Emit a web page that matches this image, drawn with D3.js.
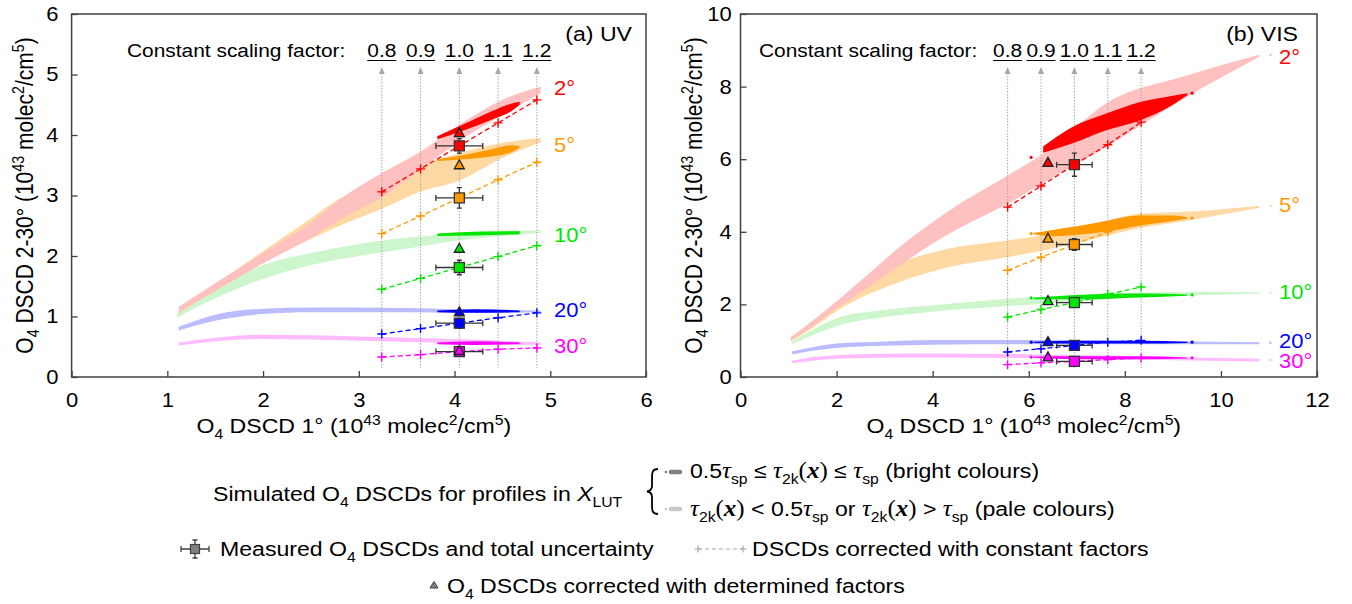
<!DOCTYPE html>
<html>
<head>
<meta charset="utf-8">
<script src="https://cdn.jsdelivr.net/npm/d3@7"></script>
<style>
  body { margin: 0; background: #fff; }
  svg { display: block; font-family: "Liberation Sans", Arial, sans-serif; }
</style>
</head>
<body>
<div id="chart"></div>
<script>
// ---------- data ----------
const ANGLES = ["2°", "5°", "10°", "20°", "30°"];
const BRIGHT = ["#ff0000", "#ff9900", "#00e600", "#0000ff", "#ff00ff"];
const PALE   = ["#ffc0c0", "#ffd9a3", "#cdf6cd", "#bbbbff", "#ffbbff"];
const FACTOR_LABELS = ["0.8", "0.9", "1.0", "1.1", "1.2"];

// UV: pale bands [x, low, high]
const uvPale2  = [[1.12,1.07,1.16],[1.5,1.42,1.55],[2.0,1.88,2.05],[2.5,2.3,2.55],[2.8,2.6,2.93],[3.24,2.97,3.37],[3.64,3.42,3.72],[4.05,3.9,4.17],[4.5,4.33,4.58],[4.9,4.69,4.8]];
const uvPale5  = [[1.12,1.05,1.12],[1.5,1.42,1.52],[2.0,1.88,2.08],[2.5,2.28,2.62],[2.8,2.5,2.95],[3.24,2.78,3.22],[3.64,3.06,3.5],[4.05,3.25,3.7],[4.5,3.62,3.87],[4.9,3.88,3.95]];
const uvPale10 = [[1.1,0.98,1.05],[1.5,1.3,1.45],[2.0,1.62,1.85],[2.5,1.85,2.05],[3.0,2.0,2.2],[3.5,2.12,2.3],[4.0,2.25,2.37],[4.5,2.33,2.42],[4.9,2.38,2.42]];
const uvPale20 = [[1.12,0.77,0.83],[1.5,0.93,1.03],[2.0,1.04,1.13],[2.5,1.07,1.15],[3.0,1.07,1.15],[3.5,1.07,1.14],[4.0,1.06,1.12],[4.5,1.06,1.11],[4.9,1.07,1.1]];
const uvPale30 = [[1.12,0.52,0.57],[1.5,0.59,0.65],[2.0,0.63,0.7],[2.5,0.62,0.69],[3.0,0.6,0.67],[3.5,0.58,0.65],[4.0,0.56,0.63],[4.5,0.54,0.6],[4.9,0.53,0.57]];
// UV: bright bands
const uvBright2  = [[3.82,3.93,3.98],[4.1,4.08,4.18],[4.4,4.26,4.4],[4.6,4.4,4.52],[4.68,4.5,4.55]];
const uvBright5  = [[3.82,3.57,3.6],[4.1,3.6,3.67],[4.4,3.65,3.77],[4.6,3.72,3.83],[4.68,3.79,3.82]];
const uvBright10 = [[3.82,2.33,2.37],[4.2,2.34,2.4],[4.68,2.36,2.41]];
const uvBright20 = [[3.82,1.07,1.1],[4.2,1.06,1.12],[4.68,1.07,1.1]];
const uvBright30 = [[3.82,0.54,0.57],[4.2,0.53,0.59],[4.68,0.54,0.57]];
// UV: constant factors, corrected points, measurements
const uvFactorX = [3.24, 3.645, 4.05, 4.455, 4.86];
const uvPlus2  = [3.06, 3.44, 3.82, 4.2, 4.58];
const uvPlus5  = [2.37, 2.66, 2.96, 3.26, 3.55];
const uvPlus10 = [1.45, 1.63, 1.81, 1.99, 2.17];
const uvPlus20 = [0.71, 0.8, 0.89, 0.98, 1.06];
const uvPlus30 = [0.33, 0.37, 0.42, 0.46, 0.48];
const uvMeasX = 4.05, uvMeasXErr = 0.245;
const uvMeasY    = [3.82, 2.96, 1.81, 0.89, 0.42];
const uvMeasYErr = [0.12, 0.17, 0.12, 0.08, 0.06];
const uvTriX = 4.05;
const uvTriY = [4.03, 3.5, 2.12, 1.07, 0.43];
const uvLabelY = [4.78, 3.83, 2.35, 1.11, 0.51];

// VIS: pale bands
const visPale2  = [[1.05,1.0,1.1],[1.5,1.4,1.55],[2.06,1.95,2.15],[2.7,2.5,2.88],[3.31,3.07,3.58],[4.35,3.95,4.59],[5.56,4.77,5.55],[6.5,5.5,6.33],[7.6,6.33,7.53],[9.27,7.7,8.3],[10.8,8.82,8.88]];
const visPale5  = [[1.05,0.98,1.05],[1.5,1.35,1.5],[2.0,1.82,2.05],[2.7,2.3,2.7],[3.31,2.62,3.13],[4.35,3.03,3.54],[5.56,3.3,3.76],[6.5,3.54,3.95],[7.5,3.85,4.25],[8.3,4.1,4.5],[9.27,4.3,4.55],[10.8,4.66,4.72]];
const visPale10 = [[1.07,0.9,0.97],[1.5,1.15,1.3],[2.0,1.4,1.62],[3.0,1.65,1.85],[4.0,1.8,1.98],[5.5,1.95,2.15],[7.0,2.08,2.26],[8.3,2.2,2.33],[9.5,2.25,2.35],[10.8,2.29,2.33]];
const visPale20 = [[1.07,0.62,0.7],[1.5,0.72,0.82],[2.0,0.8,0.92],[3.0,0.86,0.98],[4.0,0.89,1.02],[6.0,0.9,1.02],[8.0,0.9,1.0],[10.8,0.9,0.96]];
const visPale30 = [[1.07,0.38,0.45],[1.5,0.45,0.55],[2.0,0.5,0.6],[3.0,0.53,0.64],[4.0,0.54,0.65],[6.0,0.52,0.63],[8.0,0.48,0.58],[10.8,0.43,0.5]];
// VIS: bright bands
const visBright2  = [[6.3,6.18,6.35],[6.9,6.43,6.88],[7.6,6.79,7.25],[8.3,7.06,7.57],[9.0,7.5,7.75],[9.3,7.76,7.82]];
const visBright5  = [[6.1,3.93,3.97],[6.5,3.88,4.05],[7.0,3.92,4.15],[7.6,4.0,4.3],[8.3,4.17,4.45],[9.0,4.3,4.45],[9.3,4.36,4.4]];
const visBright10 = [[6.1,2.14,2.18],[7.0,2.14,2.26],[8.3,2.19,2.3],[9.3,2.24,2.27]];
const visBright20 = [[6.1,0.94,0.97],[7.0,0.92,1.0],[8.3,0.92,1.0],[9.3,0.94,0.97]];
const visBright30 = [[6.1,0.53,0.56],[7.0,0.49,0.57],[8.3,0.49,0.57],[9.3,0.51,0.54]];
const visBrightStartY = [6.05, 3.95, 2.18, 0.96, 0.55];
const visBrightEndY   = [7.82, 4.38, 2.26, 0.96, 0.53];
const visPaleEndY     = [8.87, 4.72, 2.32, 0.94, 0.47];
const visFactorX = [5.56, 6.255, 6.95, 7.645, 8.34];
const visPlus2  = [4.68, 5.26, 5.85, 6.4, 7.02];
const visPlus5  = [2.94, 3.3, 3.65, 4.0, 4.39];
const visPlus10 = [1.65, 1.86, 2.05, 2.28, 2.48];
const visPlus20 = [0.69, 0.78, 0.87, 0.96, 1.01];
const visPlus30 = [0.34, 0.39, 0.43, 0.48, 0.52];
const visMeasX = 6.95, visMeasXErr = 0.37;
const visMeasY    = [5.85, 3.65, 2.05, 0.87, 0.43];
const visMeasYErr = [0.32, 0.16, 0.1, 0.06, 0.05];
const visTriX = 6.4;
const visTriY = [5.9, 3.81, 2.09, 0.96, 0.54];
const visLabelY = [8.81, 4.73, 2.34, 0.98, 0.43];

// ---------- drawing ----------
const SX = 1.1; // text in the reference is a little wider than tall
const svg = d3.select("#chart").append("svg").attr("width", 1352).attr("height", 604);

function addText(parent, x, y, segs, opt = {}) {
  const fs = opt.size || 21;
  const t = parent.append("text")
    .attr("transform", `translate(${x},${y}) scale(${SX},1)` + (opt.rotate ? ` rotate(${opt.rotate})` : ""))
    .attr("font-size", fs)
    .attr("text-anchor", opt.anchor || "start")
    .attr("fill", opt.fill || "#000");
  let off = 0;
  const list = typeof segs === "string" ? [[segs]] : segs;
  for (const [str, kind] of list) {
    const target = kind === "sub" ? fs * 0.28 : kind === "sup" ? -fs * 0.38 : 0;
    const ts = t.append("tspan").text(str);
    if (target !== off) ts.attr("dy", target - off);
    off = target;
    if (kind === "sub" || kind === "sup") ts.attr("font-size", fs * 0.68);
    if (kind === "tau") ts.attr("font-family", "Liberation Serif").attr("font-style", "italic").attr("font-size", fs * 1.08);
    if (kind === "xb") ts.attr("font-family", "Liberation Serif").attr("font-style", "italic").attr("font-weight", "bold").attr("font-size", fs * 1.08);
    if (kind === "serif") ts.attr("font-family", "Liberation Serif").attr("font-size", fs * 1.08);
    if (kind === "it") ts.attr("font-style", "italic");
  }
  return t;
}

const xTitle = [["O"], ["4", "sub"], [" DSCD 1° (10"], ["43", "sup"], [" molec"], ["2", "sup"], ["/cm"], ["5", "sup"], [")"]];
const yTitle = [["O"], ["4", "sub"], [" DSCD 2-30° (10"], ["43", "sup"], [" molec"], ["2", "sup"], ["/cm"], ["5", "sup"], [")"]];

function drawPanel(p) {
  const { x, y } = p;
  const g = svg.append("g");

  // pale bands, 30° first so 2° sits on top
  const area = d3.area().x(d => x(d[0])).y0(d => y(d[1])).y1(d => y(d[2])).curve(d3.curveMonotoneX);
  for (let i = 4; i >= 0; i--) {
    g.append("path").attr("d", area(p.pale[i])).attr("fill", PALE[i]);
  }
  if (p.paleEndY) {
    g.selectAll("circle.pe").data(p.paleEndY).join("circle")
      .attr("cx", x(11.03)).attr("cy", d => y(d)).attr("r", 1.3).attr("fill", (d, i) => PALE[i]);
  }

  // dotted factor lines with arrows
  p.factorX.forEach((fx, i) => {
    const px = x(fx);
    g.append("line").attr("x1", px).attr("x2", px).attr("y1", 73).attr("y2", 368)
      .attr("stroke", "#a8a8a8").attr("stroke-width", 1).attr("stroke-dasharray", "1.5,1.5");
    g.append("path").attr("d", `M${px},67 L${px - 3},74 L${px + 3},74 Z`).attr("fill", "#a8a8a8");
    const t = addText(g, px, 57, FACTOR_LABELS[i], { size: 19, anchor: "middle" });
    const w = t.node().getComputedTextLength() * SX;
    g.append("line").attr("x1", px - w / 2).attr("x2", px + w / 2).attr("y1", 60.5).attr("y2", 60.5)
      .attr("stroke", "#000").attr("stroke-width", 1);
  });
  addText(g, p.annotX, 57, "Constant scaling factor:", { size: 19 });

  // bright bands
  for (let i = 4; i >= 0; i--) {
    g.append("path").attr("d", area(p.bright[i])).attr("fill", BRIGHT[i]);
  }
  if (p.brightStartY) {
    g.selectAll("circle.bs").data(p.brightStartY).join("circle")
      .attr("cx", x(6.05)).attr("cy", d => y(d)).attr("r", 1.6).attr("fill", (d, i) => BRIGHT[i]);
    g.selectAll("circle.be").data(p.brightEndY).join("circle")
      .attr("cx", x(9.4)).attr("cy", d => y(d)).attr("r", 1.6).attr("fill", (d, i) => BRIGHT[i]);
  }

  // corrected with constant factors: dashed lines with + markers
  const line = d3.line().x(d => x(d[0])).y(d => y(d[1]));
  p.plus.forEach((ys, i) => {
    const pts = ys.map((v, j) => [p.factorX[j], v]);
    g.append("path").attr("d", line(pts)).attr("fill", "none").attr("stroke", BRIGHT[i])
      .attr("stroke-width", 1.3).attr("stroke-dasharray", "5,3");
    pts.forEach(d => {
      const cx = x(d[0]), cy = y(d[1]);
      g.append("path").attr("d", `M${cx - 4.5},${cy}H${cx + 4.5}M${cx},${cy - 4.5}V${cy + 4.5}`)
        .attr("stroke", BRIGHT[i]).attr("stroke-width", 1.4);
    });
  });

  // measured with total uncertainty
  const ec = "#333";
  p.measY.forEach((m, i) => {
    const cx = x(p.measX), cy = y(m);
    const xl = x(p.measX - p.measXErr), xr = x(p.measX + p.measXErr);
    const yt = y(m + p.measYErr[i]), yb = y(m - p.measYErr[i]);
    g.append("path")
      .attr("d", `M${xl},${cy}H${xr}M${xl},${cy - 3}V${cy + 3}M${xr},${cy - 3}V${cy + 3}` +
                 `M${cx},${yt}V${yb}M${cx - 2.5},${yt}H${cx + 2.5}M${cx - 2.5},${yb}H${cx + 2.5}`)
      .attr("stroke", ec).attr("stroke-width", 1.3).attr("fill", "none");
    g.append("rect").attr("x", cx - 5).attr("y", cy - 5).attr("width", 10).attr("height", 10)
      .attr("fill", BRIGHT[i]).attr("stroke", ec).attr("stroke-width", 1.3);
  });

  // corrected with determined factors
  p.triY.forEach((v, i) => {
    const cx = x(p.triX), cy = y(v);
    g.append("path").attr("d", `M${cx},${cy - 5.5}L${cx + 5},${cy + 3.5}L${cx - 5},${cy + 3.5}Z`)
      .attr("fill", BRIGHT[i]).attr("stroke", "#222").attr("stroke-width", 1.3);
  });

  // angle labels
  ANGLES.forEach((a, i) => addText(g, p.labelX, y(p.labelY[i]) + 7, a, { size: 20, fill: BRIGHT[i] }));

  // frame and axes
  g.append("rect").attr("x", x(0)).attr("y", y(p.yMax)).attr("width", x(p.xMax) - x(0)).attr("height", y(0) - y(p.yMax))
    .attr("fill", "none").attr("stroke", "#404040").attr("stroke-width", 1.5);

  const gx = g.append("g").attr("transform", `translate(0,${y(0)})`)
    .call(d3.axisBottom(x).tickValues(p.xTicks).tickSizeInner(-6).tickSizeOuter(0).tickPadding(16).tickFormat(d3.format("d")));
  const gy = g.append("g").attr("transform", `translate(${x(0)},0)`)
    .call(d3.axisLeft(y).tickValues(p.yTicks).tickSizeInner(-6).tickSizeOuter(0).tickPadding(p.yPad).tickFormat(d3.format("d")));
  [gx, gy].forEach(a => {
    a.select(".domain").remove();
    a.selectAll("line").attr("stroke", "#404040").attr("stroke-width", 1.3);
    a.selectAll("text").attr("font-size", 20).attr("fill", "#000")
      .attr("font-family", "Liberation Sans, Arial, sans-serif").attr("transform", `scale(${SX},1)`);
  });

  addText(g, p.panelX, 41, p.panelName, { size: 21, anchor: "end" });
  addText(g, (x(0) + x(p.xMax)) / 2 - 5, 433, xTitle, { size: 21, anchor: "middle" });
  addText(g, p.yTitleX, (y(0) + y(p.yMax)) / 2, yTitle, { size: 21, anchor: "middle", rotate: -90 });
}

drawPanel({
  x: d3.scaleLinear([0, 6], [71.6, 646]),
  y: d3.scaleLinear([0, 6], [377, 14]),
  xMax: 6, yMax: 6, xTicks: d3.range(0, 7), yTicks: d3.range(0, 7), yPad: 12,
  pale: [uvPale2, uvPale5, uvPale10, uvPale20, uvPale30],
  bright: [uvBright2, uvBright5, uvBright10, uvBright20, uvBright30],
  factorX: uvFactorX,
  plus: [uvPlus2, uvPlus5, uvPlus10, uvPlus20, uvPlus30],
  measX: uvMeasX, measXErr: uvMeasXErr, measY: uvMeasY, measYErr: uvMeasYErr,
  triX: uvTriX, triY: uvTriY,
  labelX: 554, labelY: uvLabelY,
  annotX: 127, panelX: 632, panelName: "(a) UV", yTitleX: 33
});

drawPanel({
  x: d3.scaleLinear([0, 12], [740.5, 1317]),
  y: d3.scaleLinear([0, 10], [377, 14]),
  xMax: 12, yMax: 10, xTicks: d3.range(0, 13, 2), yTicks: d3.range(0, 11, 2), yPad: 8,
  pale: [visPale2, visPale5, visPale10, visPale20, visPale30],
  bright: [visBright2, visBright5, visBright10, visBright20, visBright30],
  paleEndY: visPaleEndY, brightStartY: visBrightStartY, brightEndY: visBrightEndY,
  factorX: visFactorX,
  plus: [visPlus2, visPlus5, visPlus10, visPlus20, visPlus30],
  measX: visMeasX, measXErr: visMeasXErr, measY: visMeasY, measYErr: visMeasYErr,
  triX: visTriX, triY: visTriY,
  labelX: 1279, labelY: visLabelY,
  annotX: 759, panelX: 1298, panelName: "(b) VIS", yTitleX: 702
});

// ---------- legend ----------
const lg = svg.append("g");
addText(lg, 213, 501, [["Simulated O"], ["4", "sub"], [" DSCDs for profiles in "], ["X", "it"], ["LUT", "sub"]]);
lg.append("path")
  .attr("d", "M658,469 C652,469 652,473 652,478 L652,486 C652,490 650,491 647,491.5 C650,492 652,493 652,497 L652,505 C652,510 652,514 658,514")
  .attr("fill", "none").attr("stroke", "#000").attr("stroke-width", 1.8);
[[472, "#808080"], [509, "#c8c8c8"]].forEach(([cy, c]) => {
  lg.append("circle").attr("cx", 666).attr("cy", cy).attr("r", 1.3).attr("fill", c);
  lg.append("line").attr("x1", 671).attr("x2", 680).attr("y1", cy).attr("y2", cy)
    .attr("stroke", c).attr("stroke-width", 4.5).attr("stroke-linecap", "round");
});
addText(lg, 690, 478, [["0.5"], ["τ", "tau"], ["sp", "sub"], [" ≤ "], ["τ", "tau"], ["2k", "sub"], ["(", "serif"], ["x", "xb"], [")", "serif"],
  [" ≤ "], ["τ", "tau"], ["sp", "sub"], [" (bright colours)"]]);
addText(lg, 690, 516, [["τ", "tau"], ["2k", "sub"], ["(", "serif"], ["x", "xb"], [")", "serif"], [" < 0.5"], ["τ", "tau"], ["sp", "sub"],
  [" or "], ["τ", "tau"], ["2k", "sub"], ["(", "serif"], ["x", "xb"], [")", "serif"], [" > "], ["τ", "tau"], ["sp", "sub"], [" (pale colours)"]]);

// measured icon
lg.append("path").attr("d", "M181,549H209M181,546V552M209,546V552M195,540V558M192.5,540H197.5M192.5,558H197.5")
  .attr("stroke", "#404040").attr("stroke-width", 1.3).attr("fill", "none");
lg.append("rect").attr("x", 190.5).attr("y", 544.5).attr("width", 9).attr("height", 9)
  .attr("fill", "#808080").attr("stroke", "#404040").attr("stroke-width", 1.2);
addText(lg, 220, 556, [["Measured O"], ["4", "sub"], [" DSCDs and total uncertainty"]]);

// constant factor icon
lg.append("line").attr("x1", 698).attr("x2", 743).attr("y1", 549).attr("y2", 549)
  .attr("stroke", "#a6a6a6").attr("stroke-width", 1.2).attr("stroke-dasharray", "4,3");
[698, 743].forEach(cx => lg.append("path").attr("d", `M${cx - 3.5},549H${cx + 3.5}M${cx},545.5V552.5`)
  .attr("stroke", "#a6a6a6").attr("stroke-width", 1.2));
addText(lg, 752, 556, "DSCDs corrected with constant factors");

// determined factor icon
lg.append("path").attr("d", "M434,581.5L438,588L430,588Z").attr("fill", "#808080").attr("stroke", "#404040").attr("stroke-width", 1);
addText(lg, 447, 593, [["O"], ["4", "sub"], [" DSCDs corrected with determined factors"]]);
</script>
</body>
</html>
